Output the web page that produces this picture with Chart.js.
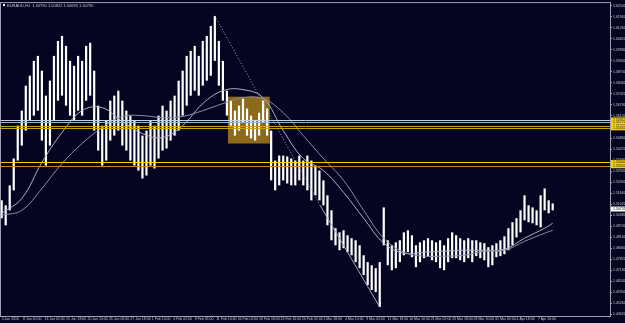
<!DOCTYPE html>
<html>
<head>
<meta charset="utf-8">
<script src="https://cdn.jsdelivr.net/npm/chart.js@4.4.0/dist/chart.umd.min.js"></script>
<style>
  html, body { margin: 0; padding: 0; background: #050522; }
  #wrap { width: 625px; height: 323px; }
</style>
</head>
<body>
<div id="wrap"><canvas id="chart" width="625" height="323"></canvas></div>
<script>
// EURAUD H1 - price range sampled every 12 bars (high / low)
const barIndex = [0, 12, 24, 36, 48, 60, 72, 84, 96, 108, 120, 132, 144, 156, 168, 180, 192, 204, 216, 228,
  240, 252, 264, 276, 288, 300, 312, 324, 336, 348, 360, 372, 384, 396, 408, 420, 432, 444, 456, 468,
  480, 492, 504, 516, 528, 540, 552, 564, 576, 588, 600, 612, 624, 636, 648, 660, 672, 684, 696, 708,
  720, 732, 744, 756, 768, 780, 792, 804, 816, 828, 840, 852, 864, 876, 888, 900, 912, 924, 936, 948,
  960, 972, 984, 996, 1008, 1020, 1032, 1044, 1056, 1068, 1080, 1092, 1104, 1116, 1128, 1140, 1152, 1164, 1176, 1188,
  1200, 1212, 1224, 1236, 1248, 1260, 1272, 1284, 1296, 1308, 1320, 1332, 1344, 1356, 1368, 1380, 1392, 1404, 1416, 1428,
  1440, 1452, 1464, 1476, 1488, 1500, 1512, 1524, 1536, 1548, 1560, 1572, 1584, 1596, 1608, 1620, 1632, 1644];

const highs = [1.5124, 1.5095, 1.5211, 1.5367, 1.5558, 1.5645, 1.5790, 1.5848, 1.5934, 1.5963,
  1.5877, 1.5732, 1.5819, 1.5963, 1.6050, 1.6079, 1.6021, 1.5934, 1.5905, 1.5963,
  1.5934, 1.6021, 1.6039, 1.5877, 1.5674, 1.5558, 1.5587, 1.5703, 1.5732, 1.5761,
  1.5703, 1.5645, 1.5616, 1.5587, 1.5558, 1.5500, 1.5529, 1.5587, 1.5558, 1.5616,
  1.5674, 1.5645, 1.5703, 1.5732, 1.5819, 1.5877, 1.5963, 1.5992, 1.6021, 1.5963,
  1.6050, 1.6079, 1.6137, 1.6195, 1.6050, 1.5934, 1.5761, 1.5703, 1.5645, 1.5674,
  1.5714, 1.5657, 1.5616, 1.5587, 1.5633, 1.5703, 1.5657, 1.5529, 1.5355, 1.5384,
  1.5384, 1.5379, 1.5367, 1.5355, 1.5384, 1.5355, 1.5384, 1.5355, 1.5326, 1.5297,
  1.5240, 1.5153, 1.5066, 1.4962, 1.4938, 1.4950, 1.4921, 1.4904, 1.4892, 1.4863,
  1.4805, 1.4765, 1.4747, 1.4730, 1.4765, 1.5083, 1.4892, 1.4863, 1.4880, 1.4892,
  1.4938, 1.4950, 1.4921, 1.4863, 1.4880, 1.4892, 1.4904, 1.4892, 1.4880, 1.4892,
  1.4863, 1.4904, 1.4938, 1.4921, 1.4904, 1.4892, 1.4904, 1.4892, 1.4892, 1.4880,
  1.4875, 1.4852, 1.4863, 1.4875, 1.4892, 1.4915, 1.4962, 1.4997, 1.5020, 1.5066,
  1.5153, 1.5095, 1.5083, 1.5066, 1.5153, 1.5193, 1.5124, 1.5106];

const lows = [1.5020, 1.4979, 1.5066, 1.5182, 1.5355, 1.5442, 1.5529, 1.5587, 1.5616, 1.5645,
  1.5471, 1.5326, 1.5442, 1.5587, 1.5703, 1.5732, 1.5674, 1.5616, 1.5587, 1.5645,
  1.5616, 1.5703, 1.5732, 1.5529, 1.5413, 1.5326, 1.5355, 1.5471, 1.5500, 1.5529,
  1.5442, 1.5413, 1.5355, 1.5326, 1.5297, 1.5251, 1.5268, 1.5326, 1.5309, 1.5367,
  1.5413, 1.5425, 1.5471, 1.5500, 1.5529, 1.5616, 1.5674, 1.5732, 1.5761, 1.5732,
  1.5790, 1.5819, 1.5848, 1.5934, 1.5790, 1.5703, 1.5616, 1.5558, 1.5500, 1.5529,
  1.5576, 1.5500, 1.5483, 1.5471, 1.5500, 1.5576, 1.5500, 1.5240, 1.5182, 1.5211,
  1.5240, 1.5222, 1.5211, 1.5211, 1.5240, 1.5211, 1.5182, 1.5124, 1.5153, 1.5124,
  1.5095, 1.4979, 1.4892, 1.4863, 1.4834, 1.4846, 1.4823, 1.4805, 1.4765, 1.4730,
  1.4690, 1.4632, 1.4603, 1.4591, 1.4504, 1.4863, 1.4747, 1.4718, 1.4730, 1.4765,
  1.4805, 1.4823, 1.4794, 1.4736, 1.4765, 1.4788, 1.4800, 1.4776, 1.4765, 1.4730,
  1.4718, 1.4765, 1.4788, 1.4788, 1.4776, 1.4765, 1.4788, 1.4765, 1.4800, 1.4788,
  1.4776, 1.4736, 1.4747, 1.4794, 1.4800, 1.4811, 1.4834, 1.4863, 1.4909, 1.4938,
  1.5008, 1.4997, 1.4991, 1.4979, 1.4967, 1.5066, 1.5049, 1.5066];

// moving averages, read every 60 bars
const maBars = [0, 60, 120, 180, 240, 300, 360, 420, 480, 540, 600, 660, 720, 780, 840,
  900, 960, 1020, 1080, 1140, 1200, 1260, 1320, 1380, 1440, 1500, 1560, 1620, 1644];
const maFast = [1.5049, 1.5135, 1.5344, 1.5518, 1.5645, 1.5662, 1.5581, 1.5512, 1.5489, 1.5558,
  1.5686, 1.5761, 1.5767, 1.5720, 1.5529, 1.5367, 1.5297, 1.5170, 1.5020, 1.4875,
  1.4817, 1.4823, 1.4829, 1.4834, 1.4834, 1.4840, 1.4904, 1.4962, 1.4991];
const maSlow = [1.5037, 1.5066, 1.5193, 1.5338, 1.5454, 1.5547, 1.5611, 1.5616, 1.5604, 1.5611,
  1.5645, 1.5686, 1.5720, 1.5714, 1.5633, 1.5500, 1.5367, 1.5240, 1.5066, 1.4904,
  1.4823, 1.4800, 1.4800, 1.4805, 1.4829, 1.4834, 1.4886, 1.4933, 1.4950];

// trend line from the February high down to the March low
const trendBars = [636, 950, 1128];
const trendPrices = [1.6195, 1.5095, 1.4504];

// rectangle (range zone)
const zoneBars = [675, 800];
const zonePrices = [1.5454, 1.5726];

// horizontal levels
const levelPrices = [1.5591, 1.5577, 1.5558, 1.5545, 1.5344, 1.5325];
const levelColors = ["#c8cce8", "#a8aed0", "#c8a018", "#c8a018", "#f0d000", "#b89010"];
const lastPrice = 1.50735;

// axis ticks
const timeTicks = [0, 64, 128, 192, 256, 320, 384, 448, 512, 576, 640, 704, 768, 832, 896,
  960, 1024, 1088, 1152, 1216, 1280, 1344, 1408, 1472, 1536, 1600];
const timeLabels = ["5 Jan 2016", "8 Jan 10:00", "13 Jan 02:00", "15 Jan 18:00", "20 Jan 10:00",
  "25 Jan 02:00", "27 Jan 18:00", "1 Feb 10:00", "4 Feb 02:00", "8 Feb 18:00", "11 Feb 10:00",
  "16 Feb 02:00", "18 Feb 18:00", "23 Feb 10:00", "26 Feb 02:00", "1 Mar 18:00", "4 Mar 10:00",
  "9 Mar 02:00", "11 Mar 18:00", "16 Mar 10:00", "21 Mar 02:00", "23 Mar 18:00", "28 Mar 10:00",
  "31 Mar 02:00", "4 Apr 18:00", "7 Apr 10:00"];
const priceTicks = [1.4462, 1.4526, 1.4590, 1.4654, 1.4718, 1.4782, 1.4846, 1.4910, 1.4974, 1.5038,
  1.5102, 1.5166, 1.5230, 1.5294, 1.5358, 1.5422, 1.5486, 1.5550, 1.5614, 1.5678,
  1.5742, 1.5806, 1.5870, 1.5934, 1.5998, 1.6062, 1.6126, 1.6190, 1.6254];

const BG = "#050522";
const AXIS = "#a0a0b4";
const TXT = "#c8c8d0";
const FONT = "'Liberation Sans', Arial, sans-serif";

// background, zone, levels, price boxes, header
const mtPlugin = {
  id: "mt",
  beforeDraw(chart) {
    const c = chart.ctx;
    c.save();
    c.fillStyle = BG;
    c.fillRect(0, 0, chart.width, chart.height);
    c.restore();
  },
  beforeDatasetsDraw(chart) {
    const c = chart.ctx, x = chart.scales.x, y = chart.scales.y;
    const x0 = x.getPixelForValue(zoneBars[0]), x1 = x.getPixelForValue(zoneBars[1]);
    const y0 = y.getPixelForValue(zonePrices[1]), y1 = y.getPixelForValue(zonePrices[0]);
    c.save();
    c.fillStyle = "#8c6a19";
    c.fillRect(x0, y0, x1 - x0, y1 - y0);
    c.restore();
  },
  afterDatasetsDraw(chart) {
    const c = chart.ctx, y = chart.scales.y, a = chart.chartArea;
    c.save();
    c.lineWidth = 1;
    levelPrices.forEach((p, i) => {
      const py = Math.round(y.getPixelForValue(p)) + 0.5;
      c.strokeStyle = levelColors[i];
      c.beginPath();
      c.moveTo(a.left, py);
      c.lineTo(a.right, py);
      c.stroke();
    });
    // frame
    c.strokeStyle = AXIS;
    c.strokeRect(a.left - 0.5, a.top - 0.5, a.right - a.left + 1, a.bottom - a.top + 1);
    c.restore();
  },
  afterDraw(chart) {
    const c = chart.ctx, y = chart.scales.y, a = chart.chartArea;
    c.save();
    c.font = "3.5px " + FONT;
    c.textBaseline = "middle";
    levelPrices.forEach(p => {
      const py = y.getPixelForValue(p);
      c.fillStyle = "#f0d000";
      c.fillRect(a.right + 1, py - 2.5, chart.width - a.right - 1, 5);
      c.fillStyle = "#202020";
      c.fillText(p.toFixed(5), a.right + 3, py);
    });
    const ly = y.getPixelForValue(lastPrice);
    c.fillStyle = "#ffffff";
    c.fillRect(a.right + 1, ly - 2.5, chart.width - a.right - 1, 5);
    c.fillStyle = "#000000";
    c.fillText(lastPrice.toFixed(5), a.right + 3, ly);
    // header
    c.fillStyle = "#ffffff";
    c.fillRect(3, 4, 2, 2);
    c.fillStyle = TXT;
    c.font = "4px " + FONT;
    c.fillText("EURAUD,H1  1.50790 1.50822 1.50695 1.50735", 7, 5.5);
    c.restore();
  }
};

const ctx = document.getElementById("chart");
new Chart(ctx, {
  type: "bar",
  data: {
    datasets: [
      {
        type: "line",
        label: "MA slow",
        data: maBars.map((b, i) => ({x: b, y: maSlow[i]})),
        borderColor: "#8c8ca4",
        borderWidth: 1,
        pointRadius: 0,
        tension: 0.4
      },
      {
        type: "line",
        label: "MA fast",
        data: maBars.map((b, i) => ({x: b, y: maFast[i]})),
        borderColor: "#b0b0c4",
        borderWidth: 1,
        pointRadius: 0,
        tension: 0.4
      },
      {
        type: "line",
        label: "Trend",
        data: trendBars.map((b, i) => ({x: b, y: trendPrices[i]})),
        borderColor: "#a8a8b8",
        borderWidth: 1,
        pointRadius: 0,
        segment: { borderDash: s => s.p0DataIndex === 0 ? [1, 2] : undefined }
      },
      {
        type: "bar",
        label: "EURAUD",
        data: barIndex.map((b, i) => ({x: b, y: [lows[i], highs[i]]})),
        backgroundColor: "#ffffff",
        borderWidth: 0,
        barPercentage: 0.55,
        categoryPercentage: 1,
        grouped: false
      }
    ]
  },
  options: {
    responsive: false,
    animation: false,
    layout: { padding: { left: 1, top: 2, right: 0, bottom: 0 } },
    plugins: { legend: { display: false }, tooltip: { enabled: false } },
    scales: {
      x: {
        type: "linear",
        min: -2,
        max: 1815,
        offset: false,
        grid: { drawOnChartArea: false, drawTicks: true, tickLength: 1, color: AXIS },
        border: { color: AXIS },
        ticks: {
          color: TXT,
          font: { size: 3.5, family: FONT },
          padding: 0,
          align: "start",
          maxRotation: 0,
          autoSkip: false,
          callback: v => timeLabels[timeTicks.indexOf(v)] || ""
        },
        afterBuildTicks: s => { s.ticks = timeTicks.map(v => ({value: v})); },
        afterFit: s => { s.height = 7; }
      },
      y: {
        position: "right",
        min: 1.44522,
        max: 1.62696,
        grid: { drawOnChartArea: false, drawTicks: true, tickLength: 2, color: AXIS },
        border: { color: AXIS },
        ticks: {
          color: TXT,
          font: { size: 3.5, family: FONT },
          padding: 1,
          autoSkip: false,
          callback: v => v.toFixed(5)
        },
        afterBuildTicks: s => { s.ticks = priceTicks.map(v => ({value: v})); },
        afterFit: s => { s.width = 15; }
      }
    }
  },
  plugins: [mtPlugin]
});
</script>
</body>
</html>
